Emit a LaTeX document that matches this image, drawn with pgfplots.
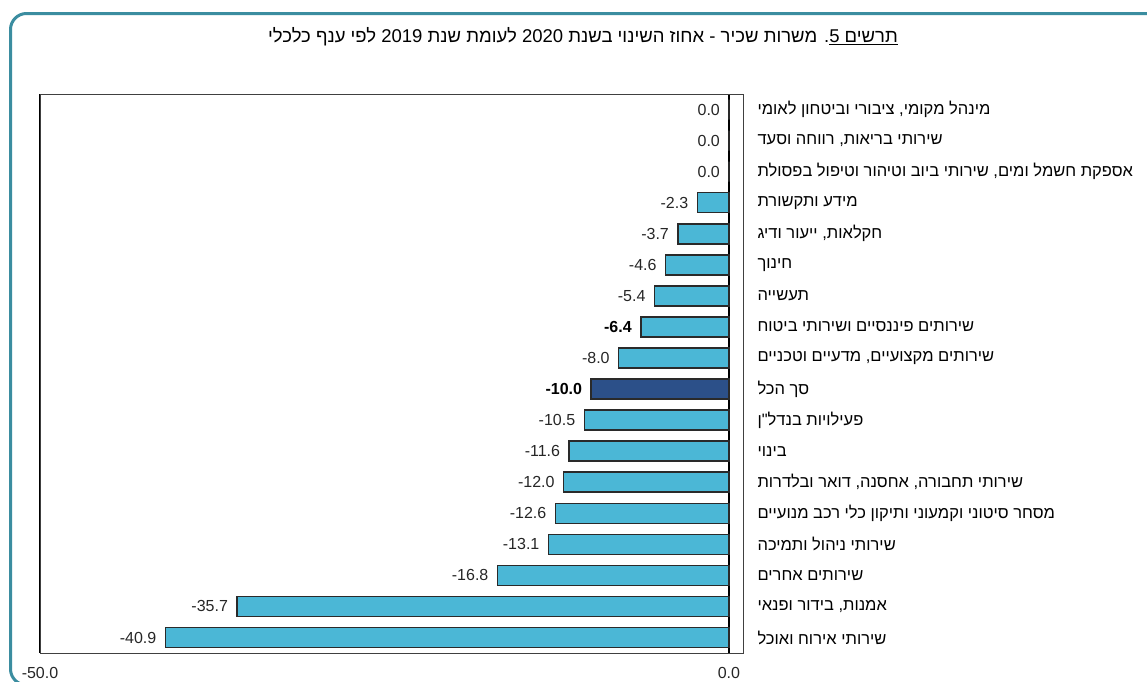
\documentclass[border=0pt]{standalone}
\usepackage{pgfplots}
\pgfplotsset{compat=1.18}
\usepackage{pgfplotstable}
\usepackage{fontspec}
\setmainfont{Liberation Sans}
\newfontfamily\heb[Script=Hebrew]{Liberation Sans}
\TeXXeTstate=1

\definecolor{barblue}{HTML}{4BB7D6}
\definecolor{navy}{HTML}{2C5089}
\definecolor{framecol}{HTML}{3B8DA0}
\definecolor{edgecol}{HTML}{2A2A2A}

% idx = row from the top, val = % change
\pgfplotstableread{
idx val
0 0.0
1 0.0
2 0.0
3 -2.3
4 -3.7
5 -4.6
6 -5.4
8 -8.0
10 -10.5
11 -11.6
12 -12.0
13 -12.6
14 -13.1
15 -16.8
16 -35.7
17 -40.9
}\sectors
\pgfplotstableread{
idx val
7 -6.4
}\finance
\pgfplotstableread{
idx val
9 -10.0
}\total

\begin{document}
\begin{tikzpicture}[x=1pt,y=1pt]
\useasboundingbox (0,0) rectangle (1147,-681);
\begin{scope}
  \clip (0,0) rectangle (1147,-681);
  \draw[framecol, line width=3pt, rounded corners=16pt] (10.5,-13.5) rectangle (1185,-685);
\end{scope}

\node[font=\fontsize{18.5}{22}\selectfont, text=black] at (583,-37)
  {\heb\beginR\underline{\hbox{\beginR תרשים 5\endR}}. משרות שכיר - אחוז השינוי בשנת 2020 לעומת שנת 2019 לפי ענף כלכלי\endR};

\begin{axis}[
  at={(40pt,-653pt)}, anchor=south west,
  scale only axis, width=703pt, height=559pt,
  xmin=-50, xmax=1.02, ymin=-0.5, ymax=17.5, y dir=reverse,
  xbar, bar width=20pt, bar shift=0pt,
  axis line style={draw=black!75, line width=1pt},
  xtick={-50,0}, ytick={0,...,17},
  major tick length=0pt,
  xmajorgrids, major grid style={black, line width=1.4pt},
  yticklabel pos=right,
  yticklabels={
    {\heb\beginR מינהל מקומי, ציבורי וביטחון לאומי\endR},
    {\heb\beginR שירותי  בריאות, רווחה וסעד\endR},
    {\heb\beginR אספקת חשמל ומים, שירותי  ביוב וטיהור וטיפול  בפסולת\endR},
    {\heb\beginR מידע ותקשורת\endR},
    {\heb\beginR חקלאות, ייעור ודיג\endR},
    {\heb\beginR חינוך\endR},
    {\heb\beginR תעשייה\endR},
    {\heb\beginR שירותים  פיננסיים ושירותי  ביטוח\endR},
    {\heb\beginR שירותים  מקצועיים, מדעיים וטכניים\endR},
    {\heb\beginR סך הכל\endR},
    {\heb\beginR פעילויות  בנדל"ן\endR},
    {\heb\beginR בינוי\endR},
    {\heb\beginR שירותי  תחבורה, אחסנה, דואר ובלדרות\endR},
    {\heb\beginR מסחר סיטוני  וקמעוני ותיקון  כלי רכב מנועיים\endR},
    {\heb\beginR שירותי  ניהול ותמיכה\endR},
    {\heb\beginR שירותים  אחרים\endR},
    {\heb\beginR אמנות, בידור ופנאי\endR},
    {\heb\beginR שירותי  אירוח ואוכל\endR}
  },
  yticklabel style={anchor=west, xshift=11pt, text=black, font=\fontsize{16.5}{19}\selectfont},
  xticklabel style={text=black!85, yshift=-11pt},
  font=\fontsize{16}{19}\selectfont,
  /pgf/number format/.cd, fixed, zerofill, precision=1, assume math mode=true,
  /pgfplots/.cd,
  nodes near coords,
  every node near coord/.append style={anchor=east, text=black!85, xshift=-5pt},
]
\addplot[draw=edgecol, line width=1.5pt, fill=barblue]
  table[x=val, y=idx] {\sectors};
\addplot[draw=edgecol, line width=1.5pt, fill=barblue,
  every node near coord/.append style={font=\fontsize{16}{19}\selectfont\bfseries, text=black}]
  table[x=val, y=idx] {\finance};
\addplot[draw=edgecol, line width=1.5pt, fill=navy,
  every node near coord/.append style={font=\fontsize{16}{19}\selectfont\bfseries, text=black}]
  table[x=val, y=idx] {\total};
\end{axis}
\end{tikzpicture}
\end{document}
